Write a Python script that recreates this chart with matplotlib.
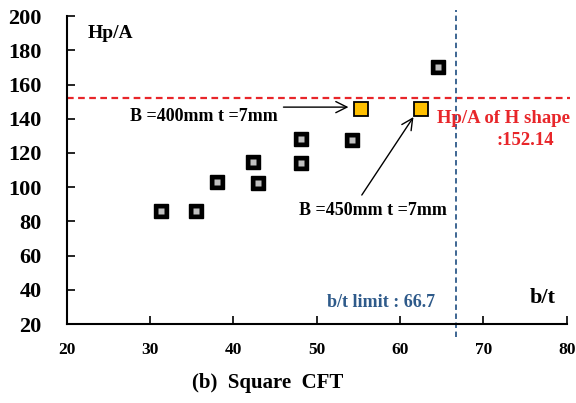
import numpy as np
import matplotlib
matplotlib.use('Agg')
import matplotlib.pyplot as plt

plt.rcParams['font.family'] = ['Liberation Serif', 'DejaVu Serif']
plt.rcParams['font.weight'] = 'bold'

# data
bt_vals = [31.3, 35.5, 38.0, 42.4, 42.9, 48.1, 48.1, 54.2, 64.6]
hpa_vals = [86, 86, 103, 114.5, 102.5, 128, 114, 127.5, 170]
sel_bt = [55.3, 62.5]
sel_hpa = [145.5, 145.5]
h_shape_hpa = 152.14
bt_limit = 66.7
x_ticks = [20, 30, 40, 50, 60, 70, 80]
y_ticks = [20, 40, 60, 80, 100, 120, 140, 160, 180, 200]

fig = plt.figure(figsize=(5.76, 4.03), dpi=100)
ax = fig.add_axes([0.116, 0.196, 0.868, 0.764])

# reference lines
ax.plot([20, 80.4], [h_shape_hpa, h_shape_hpa], color='#e8262a', ls=(0, (3, 2)),
        lw=1.6, clip_on=False, zorder=1)
ax.plot([bt_limit, bt_limit], [12.4, 203.5], color='#2e5a8a', ls=(0, (3, 2)),
        lw=1.3, clip_on=False, zorder=1)

# square CFT points
ax.plot(bt_vals, hpa_vals, ls='none', marker='s', ms=9.5, mfc='black', mec='black', zorder=3)
ax.plot(bt_vals, hpa_vals, ls='none', marker='s', ms=4.5, mfc='#c0c0c0', mec='none', zorder=4)
ax.plot(sel_bt, sel_hpa, ls='none', marker='s', ms=9.5, mfc='#ffc000', mec='black',
        mew=1.3, zorder=3)

ax.set_xlim(20, 80)
ax.set_ylim(20, 200)
ax.set_xticks(x_ticks)
ax.set_yticks(y_ticks)
ax.tick_params(axis='x', direction='in', length=6, width=1.2, labelsize=12.5, pad=13)
ax.tick_params(axis='y', direction='in', length=6, width=1.2, labelsize=16, pad=18)
for lab in ax.get_xticklabels() + ax.get_yticklabels():
    lab.set_fontweight('bold')
for s in ['top', 'right']:
    ax.spines[s].set_visible(False)
for s in ['left', 'bottom']:
    ax.spines[s].set_linewidth(1.5)

ax.text(25.2, 190, 'Hp/A', fontsize=14, fontweight='bold', ha='center', va='center')
ax.text(77.1, 35.2, 'b/t', fontsize=16, fontweight='bold', ha='center', va='center')
ax.text(57.7, 32.3, 'b/t limit : 66.7', fontsize=13, fontweight='bold', color='#2e5a8a',
        ha='center', va='center')
ax.text(72.4, 140.4, 'Hp/A of H shape', fontsize=13.5, fontweight='bold', color='#e8262a',
        ha='center', va='center')
ax.text(75, 127.5, ':152.14', fontsize=13.5, fontweight='bold', color='#e8262a',
        ha='center', va='center')

ax.text(36.4, 141.6, 'B =400mm t =7mm', fontsize=13, fontweight='bold', ha='center', va='center')
ax.text(56.7, 86.6, 'B =450mm t =7mm', fontsize=13, fontweight='bold', ha='center', va='center')
ax.annotate('', xy=(53.8, 146.8), xytext=(46.0, 146.8),
            arrowprops=dict(arrowstyle='->', color='black', lw=1.0, mutation_scale=20,
                            shrinkA=0, shrinkB=0))
ax.annotate('', xy=(61.6, 141.0), xytext=(55.4, 95.4),
            arrowprops=dict(arrowstyle='->', color='black', lw=1.0, mutation_scale=20,
                            shrinkA=0, shrinkB=0))

fig.text(0.464, 0.05, '(b)  Square  CFT', fontsize=15, fontweight='bold', ha='center', va='center')

fig.savefig('out.png', dpi=100)
